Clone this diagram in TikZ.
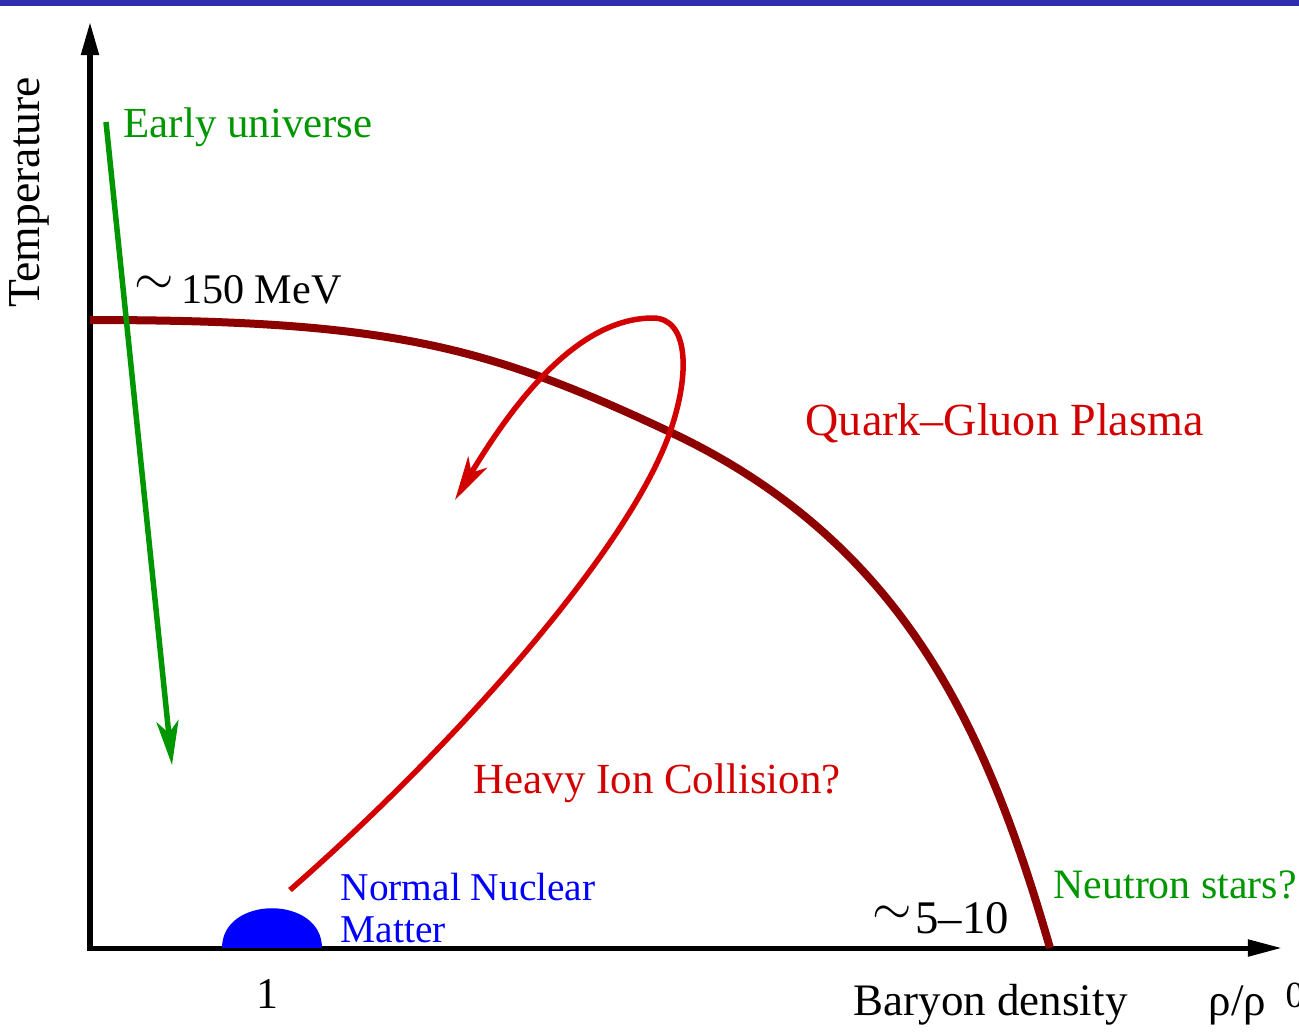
\documentclass[tikz,border=0pt]{standalone}
\usepackage{fontspec}
\setmainfont{Liberation Serif}
\usetikzlibrary{arrows.meta}
\definecolor{PBar}{HTML}{2D2DAD}
\definecolor{PGreen}{HTML}{009600}
\definecolor{PRed}{HTML}{D20000}
\definecolor{PMaroon}{HTML}{8C0000}
\definecolor{PBlue}{HTML}{0000FF}
\newcommand{\fsz}[1]{\fontsize{#1}{#1}\selectfont}
\newcommand{\approxsym}{\raisebox{2.4pt}{\fontsize{14.5}{14.5}\selectfont$\sim$}}

\begin{document}
\begin{tikzpicture}[
  x=0.01cm, y=-0.01cm,
  ax/.style={line width=0.05cm,
    {Triangle[length=3.3mm,width=1.7mm]}-{Triangle[length=3.4mm,width=1.6mm]}},
  trk/.style={line width=0.055cm,
    -{Stealth[length=4.4mm,width=2.2mm,inset=1.2mm]}},
  lbl/.style={inner sep=0pt,anchor=base west}
]
  \useasboundingbox (0,0) rectangle (1299,1032);
  \fill[PBar] (0,0) rectangle (1299,6);

  % axes
  \coordinate (origin) at (90,948);
  \coordinate (ytip) at (90,22);
  \coordinate (xtip) at (1282,948);
  \draw[ax] (ytip) -- (origin) -- (xtip);

  % normal nuclear matter
  \coordinate (nmL) at (222,948);
  \coordinate (nmR) at (322,948);
  \fill[PBlue] (nmL) .. controls (222,895) and (322,895) .. (nmR) -- cycle;

  % phase boundary
  \coordinate (tcrit) at (90,320);
  \coordinate (bend) at (670,432);
  \coordinate (rhocrit) at (1050,948);
  \draw[PMaroon,line width=0.08cm] (tcrit)
    .. controls (390,320) and (487,346) .. (bend)
    .. controls (908,544) and (989,737) .. (rhocrit);

  % early universe
  \coordinate (bigbang) at (106,122);
  \coordinate (cooled) at (172,765);
  \draw[trk,PGreen] (bigbang) -- (cooled);

  % heavy ion collision
  \coordinate (hiStart) at (290,890);
  \coordinate (hiTop) at (653,318);
  \coordinate (hiEnd) at (455,500);
  \draw[trk,PRed] (hiStart)
    .. controls (450,750) and (628,552) .. (bend)
    .. controls (691,372) and (688,318) .. (hiTop)
    .. controls (583,318) and (521,390) .. (hiEnd);

  % labels
  \node[lbl,font=\fsz{13},rotate=90,anchor=base] (temp) at (40,192) {Temperature};
  \node[lbl,PGreen,font=\fsz{12.2}] (early) at (123,137) {Early universe};
  \node[lbl,font=\fsz{12}] (tc) at (134,303) {\approxsym\hspace{2pt}150 MeV};
  \node[lbl,PRed,font=\fsz{13.1}] (qgp) at (805,435) {Quark--Gluon Plasma};
  \node[lbl,PRed,font=\fsz{12.2}] (hic) at (473,793) {Heavy Ion Collision?};
  \node[lbl,PBlue,font=\fsz{11.2}] (nnm) at (340,900) {Normal Nuclear};
  \node[lbl,PBlue,font=\fsz{11.2}] (nnm2) at (340,942) {Matter};
  \node[lbl,PGreen,font=\fsz{11.9}] (ns) at (1053,898) {Neutron stars?};
  \node[lbl,font=\fsz{13.3}] (nc) at (872,933) {\approxsym\hspace{1pt}5--10};
  \node[lbl,font=\fsz{12.5},anchor=base] (one) at (267,1008) {1};
  \node[lbl,font=\fsz{12.8}] (bd) at (853,1015) {Baryon density};
  \node[lbl,font=\fsz{12.8}] (rho) at (1208,1015) {ρ/ρ};
  \node[lbl,font=\fsz{10.5}] (rho0) at (1285,1007) {0};
\end{tikzpicture}
\end{document}
